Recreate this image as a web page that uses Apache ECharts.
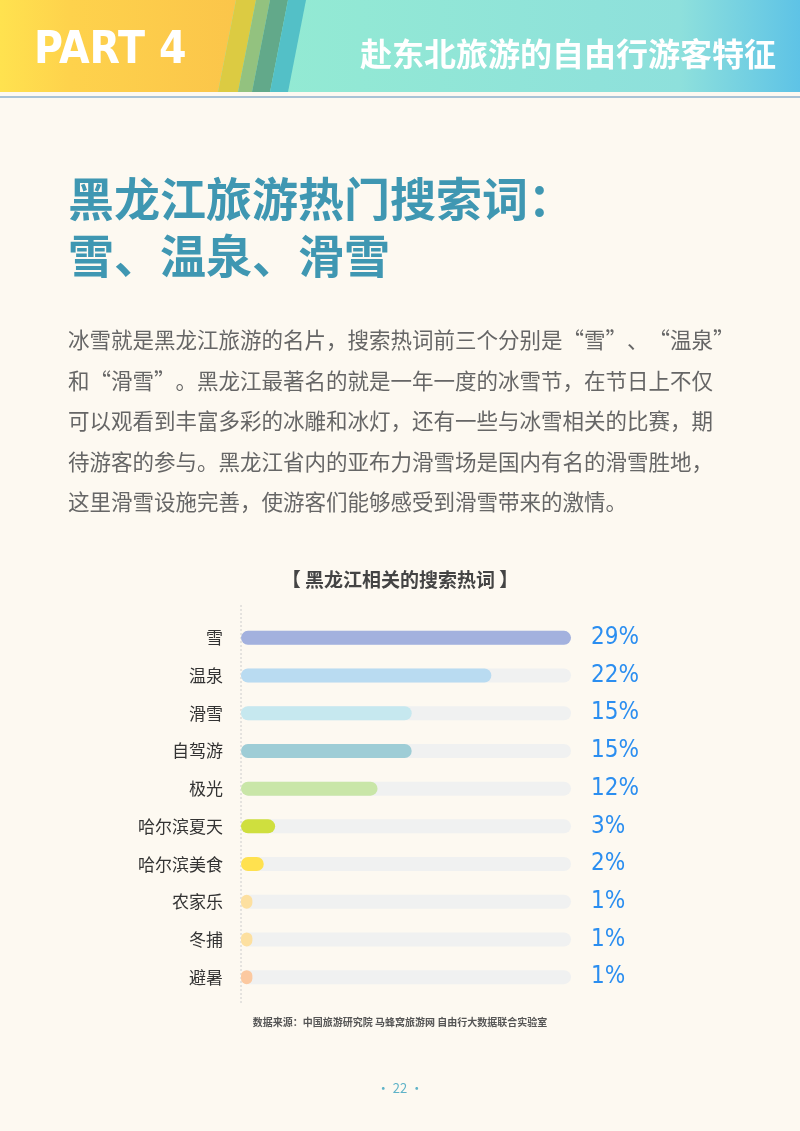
<!DOCTYPE html>
<html><head><meta charset="utf-8">
<script src="https://cdn.jsdelivr.net/npm/echarts@6/dist/echarts.min.js"></script>
<style>html,body{margin:0;padding:0;background:#fdf9f1}#c{width:800px;height:1131px}</style>
</head><body><div id="c"></div>
<script>
const categories=['雪','温泉','滑雪','自驾游','极光','哈尔滨夏天','哈尔滨美食','农家乐','冬捕','避暑'];
const values=[29,22,15,15,12,3,2,1,1,1];
const barColors=['#a3b1de','#b9dbf1','#c6e8ef','#9ecdd6','#c9e6a8','#cfdf3e','#ffe14f','#fde0a0','#fde0a0','#fcc9a0'];
const bgMax=29;
const F='"Noto Sans CJK SC",sans-serif';
const chart=echarts.init(document.getElementById('c'));
const para=['冰雪就是黑龙江旅游的名片，搜索热词前三个分别是“雪”、“温泉”','和“滑雪”。黑龙江最著名的就是一年一度的冰雪节，在节日上不仅','可以观看到丰富多彩的冰雕和冰灯，还有一些与冰雪相关的比赛，期','待游客的参与。黑龙江省内的亚布力滑雪场是国内有名的滑雪胜地，','这里滑雪设施完善，使游客们能够感受到滑雪带来的激情。'];
const g=[
 {type:'rect',shape:{x:0,y:0,width:800,height:92},style:{fill:new echarts.graphic.LinearGradient(0,0,1,0,[{offset:0,color:'#a8e3bd'},{offset:0.35,color:'#93ead3'},{offset:0.85,color:'#8ee0dc'},{offset:1,color:'#5ec3e6'}])}},
 {type:'polygon',shape:{points:[[0,0],[236,0],[218,92],[0,92]]},style:{fill:new echarts.graphic.LinearGradient(0,0,1,0,[{offset:0,color:'#ffe24f'},{offset:0.3,color:'#fed24c'},{offset:1,color:'#fbc54a'}])}},
 {type:'polygon',shape:{points:[[236,0],[256,0],[238,92],[218,92]]},style:{fill:'#dccb42'}},
 {type:'polygon',shape:{points:[[256,0],[270,0],[252,92],[238,92]]},style:{fill:'#93c27f'}},
 {type:'polygon',shape:{points:[[270,0],[288,0],[270,92],[252,92]]},style:{fill:'#62a98a'}},
 {type:'polygon',shape:{points:[[288,0],[306,0],[288,92],[270,92]]},style:{fill:'#53c0c7'}},
 {type:'text',style:{x:34,y:52,text:'PART 4',font:'bold 44px "DejaVu Sans Condensed",sans-serif',fill:'#fff',verticalAlign:'middle'}},
 {type:'text',style:{x:776,y:54,text:'赴东北旅游的自由行游客特征',font:'bold 32px '+F,fill:'#fff',align:'right',verticalAlign:'middle'}},
 {type:'rect',shape:{x:0,y:96,width:800,height:2},style:{fill:'#a9c3d6'}},
 {type:'text',style:{x:68,y:170,text:'黑龙江旅游热门搜索词：\n雪、温泉、滑雪',font:'bold 46px '+F,fill:'#3f97b2',lineHeight:57}},
 {type:'text',style:{x:68,y:320,text:para.join('\n'),font:'21.5px '+F,fill:'#666',lineHeight:40.5}},
 {type:'text',style:{x:400,y:580,text:'【 黑龙江相关的搜索热词 】',font:'bold 19px '+F,fill:'#444',align:'center',verticalAlign:'middle'}},
 {type:'line',shape:{x1:241,y1:605,x2:241,y2:1005},style:{stroke:'#ccc',lineDash:[2,2],lineWidth:1}},
 {type:'text',style:{x:400,y:1022,text:'数据来源：中国旅游研究院 马蜂窝旅游网 自由行大数据联合实验室',font:'bold 10px '+F,fill:'#555',align:'center',verticalAlign:'middle'}},
 {type:'text',style:{x:400,y:1088,text:'· 22 ·',font:'13px '+F,fill:'#5fb3c8',align:'center',verticalAlign:'middle'}}
];
chart.setOption({
 backgroundColor:'#fdf9f1',animation:false,
 grid:{left:241,right:229,top:619,height:377},
 xAxis:{type:'value',min:0,max:bgMax,show:false},
 yAxis:{type:'category',data:categories,inverse:true,axisLine:{show:false},axisTick:{show:false},
   axisLabel:{color:'#333',fontSize:17,fontFamily:F,margin:18}},
 series:[
  {type:'bar',data:categories.map(()=>bgMax),barWidth:14,silent:true,itemStyle:{color:'#f0f1f1',borderRadius:7},
   label:{show:true,position:'right',distance:20,formatter:p=>values[p.dataIndex]+'%',color:'#2b8ef0',fontSize:24,fontFamily:'"DejaVu Sans Condensed",sans-serif'}},
  {type:'bar',data:values.map((v,i)=>({value:v,itemStyle:{color:barColors[i]}})),barWidth:14,barGap:'-100%',itemStyle:{borderRadius:7}}
 ],
 graphic:g
});
</script></body></html>
